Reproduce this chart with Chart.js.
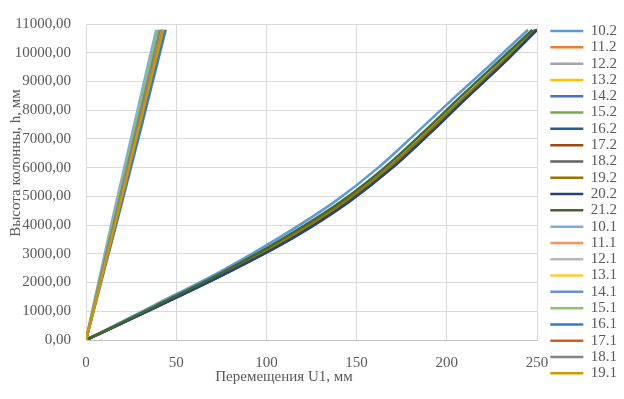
<!DOCTYPE html>
<html>
<head>
<meta charset="utf-8">
<script src="https://cdn.jsdelivr.net/npm/chart.js"></script>
<style>
  body { margin: 0; background: #fff; }
</style>
</head>
<body>
<canvas id="myChart" width="624" height="399"></canvas>
<script>
// heights along the column (y), shared by all series
const heights = [0, 1200, 2400, 3600, 4800, 6000, 7200, 8400, 9600, 10800]

// displacement U1 (x) for every series
const s10_2 = [0, 37.5, 75, 108, 137.5, 162, 183, 203.5, 224.5, 245]
const s11_2 = [0, 39.8, 78.6, 114, 143.5, 168, 189, 209, 229.5, 249.3]
const s12_2 = [0, 40.2, 79.2, 114.8, 144.3, 168.8, 189.8, 209.8, 230.3, 250]
const s13_2 = [0, 39.9, 78.8, 114.2, 143.8, 168.2, 189.2, 209.2, 229.8, 249.6]
const s14_2 = [0, 40.4, 79.6, 115.2, 144.8, 169.3, 190.2, 210.2, 230.6, 250]
const s15_2 = [0, 39.6, 78.3, 113.6, 143, 167.5, 188.5, 208.6, 229.2, 249]
const s16_2 = [0, 40.6, 79.9, 115.6, 145.2, 169.6, 190.5, 210.4, 230.8, 250]
const s17_2 = [0, 40.1, 79, 114.5, 144.1, 168.6, 189.6, 209.6, 230.1, 249.8]
const s18_2 = [0, 40.3, 79.4, 115, 144.6, 169, 190, 210, 230.4, 250]
const s19_2 = [0, 39.7, 78.5, 113.9, 143.4, 167.9, 188.9, 209, 229.6, 249.4]
const s20_2 = [0, 40.8, 80.2, 116, 145.6, 170, 190.8, 210.6, 231, 250]
const s21_2 = [0, 39, 77, 111, 141, 165.5, 186.5, 206.5, 227, 247.5]
const s10_1 = [0, 4.1, 8.3, 12.5, 16.8, 21.2, 25.6, 30, 34.4, 38.9]
const s11_1 = [0, 4.7, 9.3, 14, 18.7, 23.3, 28, 32.6, 37.2, 41.9]
const s12_1 = [0, 4.6, 9.1, 13.7, 18.4, 23, 27.6, 32.2, 36.8, 41.4]
const s13_1 = [0, 4.7, 9.4, 14.1, 18.8, 23.5, 28.1, 32.8, 37.4, 42.1]
const s14_1 = [0, 4.9, 9.8, 14.7, 19.6, 24.4, 29.2, 34, 38.8, 43.6]
const s15_1 = [0, 4.3, 8.7, 13.1, 17.5, 22, 26.4, 30.9, 35.4, 40]
const s16_1 = [0, 5, 10, 15, 20, 24.9, 29.8, 34.6, 39.4, 44.2]
const s17_1 = [0, 4.8, 9.5, 14.3, 19, 23.7, 28.4, 33.1, 37.8, 42.5]
const s18_1 = [0, 4.5, 9, 13.6, 18.2, 22.8, 27.3, 31.9, 36.5, 41]
const s19_1 = [0, 4.8, 9.6, 14.4, 19.2, 23.9, 28.6, 33.3, 38, 42.8]

const seriesNames = ['10.2', '11.2', '12.2', '13.2', '14.2', '15.2', '16.2', '17.2', '18.2', '19.2', '20.2', '21.2',
                     '10.1', '11.1', '12.1', '13.1', '14.1', '15.1', '16.1', '17.1', '18.1', '19.1']
const seriesX = [s10_2, s11_2, s12_2, s13_2, s14_2, s15_2, s16_2, s17_2, s18_2, s19_2, s20_2, s21_2,
                 s10_1, s11_1, s12_1, s13_1, s14_1, s15_1, s16_1, s17_1, s18_1, s19_1]

const xTicks = [0, 50, 100, 150, 200, 250]
const yTickLabels = ['0,00', '1000,00', '2000,00', '3000,00', '4000,00', '5000,00',
                     '6000,00', '7000,00', '8000,00', '9000,00', '10000,00', '11000,00']

const xTitle = 'Перемещения U1, мм'
const yTitle = 'Высота колонны, h, мм'

const palette = ['#5B9BD5', '#ED7D31', '#A5A5A5', '#FFC000', '#4472C4', '#70AD47', '#255E91', '#9E480E',
                 '#636363', '#997300', '#264478', '#43682B', '#7CAFDD', '#F1975A', '#B7B7B7', '#FFCD33',
                 '#698ED0', '#8CC168', '#327DC2', '#D26012', '#848484', '#CC9A00']

const FONT = '"Liberation Serif", "Times New Roman", serif'
const TEXT = '#595959'

// axis titles sit where Excel put them (overlapping the tick labels on the left)
const axisTitles = {
    id: 'axisTitles',
    afterDraw(chart) {
        const ctx = chart.ctx
        ctx.save()
        ctx.font = '15px ' + FONT
        ctx.fillStyle = TEXT
        ctx.textAlign = 'center'
        ctx.textBaseline = 'middle'
        ctx.fillText(xTitle, 284, 377)
        ctx.translate(16, 163)
        ctx.rotate(-Math.PI / 2)
        ctx.fillText(yTitle, 0, 0)
        ctx.restore()
    }
}

// push the legend a bit right of the plot border
const legendShift = {
    id: 'legendShift',
    afterLayout(chart) {
        chart.legend.left += 12
        chart.legend.right += 12
    }
}

let datasets = seriesX.map((xs, i) => ({
    label: seriesNames[i],
    data: xs.map((x, k) => ({x: x, y: heights[k]})),
    borderColor: palette[i],
    backgroundColor: palette[i],
    borderWidth: 2.5,
    showLine: true,
    pointRadius: 0,
    cubicInterpolationMode: 'monotone',
    order: seriesX.length - i
}))

let ctx = document.getElementById('myChart').getContext('2d')
let myChart = new Chart(ctx, {
    type: 'scatter',
    data: { datasets: datasets },
    options: {
        responsive: false,
        animation: false,
        layout: { padding: { top: 5.4, left: 0, right: 0, bottom: 0 } },
        plugins: {
            tooltip: { enabled: false },
            legend: {
                position: 'right',
                labels: {
                    usePointStyle: true,
                    pointStyle: 'line',
                    pointStyleWidth: 33,
                    padding: 1.3,
                    color: TEXT,
                    font: { family: FONT, size: 15 },
                    sort: (a, b) => a.datasetIndex - b.datasetIndex
                }
            }
        },
        scales: {
            x: {
                type: 'linear',
                min: 0,
                max: 250,
                afterBuildTicks: s => { s.ticks = xTicks.map(v => ({value: v})) },
                afterFit: s => { s.height = 59; s.paddingRight = 87 },
                grid: { color: '#D9D9D9', lineWidth: 1, drawTicks: false },
                border: { color: '#BFBFBF', width: 1 },
                ticks: { padding: 14, color: TEXT, font: { family: FONT, size: 15 }, maxRotation: 0 }
            },
            y: {
                type: 'linear',
                min: 0,
                max: 11000,
                ticks: {
                    stepSize: 1000,
                    padding: 15,
                    color: TEXT,
                    font: { family: FONT, size: 15 },
                    callback: v => yTickLabels[Math.round(v / 1000)]
                },
                afterFit: s => { s.width = 86 },
                grid: { color: '#D9D9D9', lineWidth: 1, drawTicks: false },
                border: { color: '#D9D9D9', width: 1 }
            }
        }
    },
    plugins: [axisTitles, legendShift]
})
</script>
</body>
</html>
